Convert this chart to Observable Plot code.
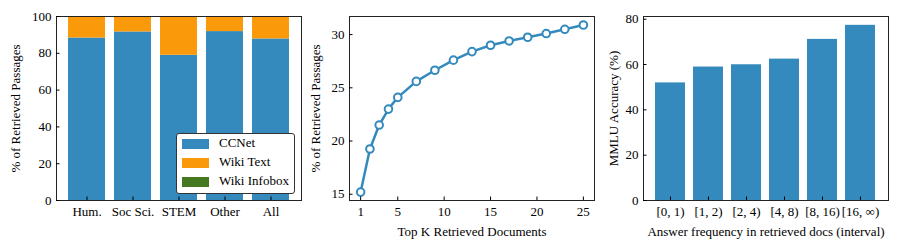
<!DOCTYPE html>
<html><head><meta charset="utf-8">
<script src="https://cdn.jsdelivr.net/npm/d3@7"></script>
<script src="https://cdn.jsdelivr.net/npm/@observablehq/plot@0.6"></script>
<style>
body{margin:0;background:#fff;}
#wrap{position:relative;width:900px;height:250px;font-family:"Liberation Serif",serif;color:#000;text-align:left;}
#wrap svg{position:absolute;top:0;overflow:visible;}
.legend{position:absolute;left:176px;top:133px;width:117px;height:59px;border:1px solid #333;border-radius:3px;background:#fff;font-size:13px;text-align:left;}
.legend .row{position:absolute;left:0;width:117px;height:14px;}
.legend .sw{position:absolute;left:5px;top:2px;width:27px;height:10px;}
.legend .lb{position:absolute;left:42px;top:-2px;white-space:nowrap;text-align:left;}
</style></head><body><div id="wrap"></div>
<script>
// Panel 1: source of retrieved passages by MMLU subject group
const subjects = ["Hum.", "Soc Sci.", "STEM", "Other", "All"];
const ccnet = [88.3, 91.6, 78.9, 91.8, 87.8];
const wikiText = [11.3, 8.1, 20.8, 7.9, 11.8];
const wikiInfobox = [0.4, 0.3, 0.3, 0.3, 0.4];
const sources = ["CCNet", "Wiki Text", "Wiki Infobox"];
const sourceColors = ["#348ABD", "#FA9A0A", "#467821"];
const yTicks1 = [0, 20, 40, 60, 80, 100];

// Panel 2: % of retrieved passages vs top K
const topK = [1, 2, 3, 4, 5, 7, 9, 11, 13, 15, 17, 19, 21, 23, 25];
const retrievedPct = [15.2, 19.25, 21.5, 23.0, 24.1, 25.6, 26.65, 27.6, 28.4, 29.0, 29.4, 29.75, 30.1, 30.5, 30.9];
const xTicks2 = [1, 5, 10, 15, 20, 25];
const yTicks2 = [15, 20, 25, 30];

// Panel 3: MMLU accuracy vs answer frequency
const freqBins = ["[0, 1)", "[1, 2)", "[2, 4)", "[4, 8)", "[8, 16)", "[16, ∞)"];
const mmluAcc = [51.9, 58.9, 59.9, 62.4, 71.1, 77.3];
const yTicks3 = [0, 20, 40, 60, 80];

const blue = "#348ABD";
const font = {fontFamily: '"Liberation Serif", serif', fontSize: "13px", color: "#000", background: "transparent", overflow: "visible"};
const wrap = document.getElementById("wrap");

function place(svg, left) { svg.style.left = left + "px"; wrap.appendChild(svg); }

// ---- Panel 1
const seriesVals = [ccnet, wikiText, wikiInfobox];
const stackData = subjects.flatMap((s, i) => sources.map((src, j) => ({subject: s, source: src, value: seriesVals[j][i]})));
const p1 = Plot.plot({
  width: 310, height: 250, marginLeft: 56, marginRight: 9, marginTop: 16, marginBottom: 50,
  style: font,
  x: {domain: subjects, paddingInner: 0.2, paddingOuter: 0.245, label: null},
  y: {domain: [0, 100], label: null},
  color: {domain: sources, range: sourceColors},
  marks: [
    Plot.barY(stackData, {x: "subject", y: "value", fill: "source"}),
    Plot.frame({stroke: "#222"}),
    Plot.axisY({ticks: yTicks1, tickSize: -3.5, tickPadding: 8.5, label: "% of Retrieved Passages", labelArrow: "none", labelAnchor: "center", labelOffset: 46}),
    Plot.axisX({tickSize: -3.5, tickPadding: 9.5, label: null})
  ]
});
place(p1, 0);

// ---- Panel 2
const lineData = topK.map((k, i) => ({k, v: retrievedPct[i]}));
const p2 = Plot.plot({
  width: 300, height: 250, marginLeft: 49, marginRight: 6, marginTop: 16, marginBottom: 50,
  style: font,
  x: {domain: [-0.2, 26.2], label: null},
  y: {domain: [14.41, 31.7], label: null},
  marks: [
    Plot.line(lineData, {x: "k", y: "v", stroke: blue, strokeWidth: 2.5}),
    Plot.dot(lineData, {x: "k", y: "v", r: 3.8, fill: "white", stroke: blue, strokeWidth: 2}),
    Plot.frame({stroke: "#222"}),
    Plot.axisY({ticks: yTicks2, tickSize: -3.5, tickPadding: 8.5, label: "% of Retrieved Passages", labelArrow: "none", labelAnchor: "center", labelOffset: 38.5}),
    Plot.axisX({ticks: xTicks2, tickSize: -3.5, tickPadding: 9.5, label: "Top K Retrieved Documents", labelArrow: "none", labelAnchor: "center", labelOffset: 35})
  ]
});
place(p2, 300);

// ---- Panel 3
const accData = freqBins.map((b, i) => ({bin: b, acc: mmluAcc[i]}));
const p3 = Plot.plot({
  width: 300, height: 250, marginLeft: 43, marginRight: 12, marginTop: 16, marginBottom: 50,
  style: font,
  x: {domain: freqBins, paddingInner: 0.2, paddingOuter: 0.29, label: null},
  y: {domain: [0, 81.2], label: null},
  marks: [
    Plot.barY(accData, {x: "bin", y: "acc", fill: blue}),
    Plot.frame({stroke: "#222"}),
    Plot.axisY({ticks: yTicks3, tickSize: -3.5, tickPadding: 8.5, label: "MMLU Accuracy (%)", labelArrow: "none", labelAnchor: "center", labelOffset: 34.5}),
    Plot.axisX({tickSize: -3.5, tickPadding: 9.5, label: "Answer frequency in retrieved docs (interval)", labelArrow: "none", labelAnchor: "center", labelOffset: 35})
  ]
});
place(p3, 600);

// ---- Legend for panel 1
const leg = document.createElement("div");
leg.className = "legend";
sources.forEach((s, j) => {
  const row = document.createElement("div");
  row.className = "row";
  row.style.top = (3 + j * 19) + "px";
  row.innerHTML = `<div class="sw" style="background:${sourceColors[j]}"></div><div class="lb">${s}</div>`;
  leg.appendChild(row);
});
wrap.appendChild(leg);
</script>
</body></html>
